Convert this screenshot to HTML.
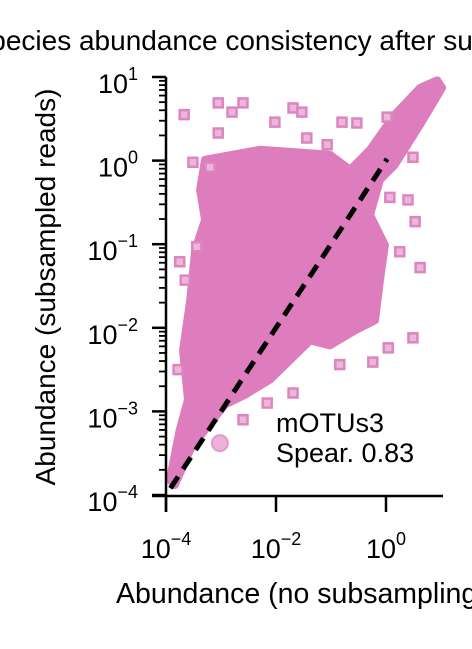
<!DOCTYPE html>
<html><head><meta charset="utf-8"><style>
html,body{margin:0;padding:0;background:#fff}
svg{display:block;font-family:"Liberation Sans",Arial,sans-serif}
</style></head><body>
<svg id="chart" width="472" height="649">
<text x="286" y="50" font-size="28" text-anchor="middle">Species abundance consistency after subsampling</text>
<g id="plot"></g>
<g id="axes"></g>
<text x="116" y="603" font-size="28.5">Abundance (no subsampling)</text>
<text transform="translate(55,287) rotate(-90)" font-size="28" text-anchor="middle">Abundance (subsampled reads)</text>
<text x="276" y="432" font-size="27">mOTUs3</text>
<text x="276" y="462" font-size="27">Spear. 0.83</text>
</svg>
<script>
// log10 values
const cloudX=[-3.29,-2.29,-1.02,-0.65,-0.29,0.16,0.62,0.93,1.02,0.62,0.16,-0.11,-0.29,-0.02,-0.11,-0.2,-0.56,-1.02,-1.38,-1.75,-2.11,-2.56,-2.93,-3.29,-3.56,-3.84,-3.93,-3.75,-3.6,-3.69,-3.56,-3.47,-3.29,-3.38];
const cloudY=[0.01,0.13,0.07,-0.11,0.13,0.55,0.87,0.96,0.87,0.43,-0.05,-0.23,-0.65,-1.01,-1.43,-1.91,-2.03,-2.21,-2.15,-2.39,-2.62,-2.8,-2.92,-3.22,-3.46,-3.88,-3.82,-3.22,-2.86,-2.27,-1.67,-1.07,-0.71,-0.35];
const ptsX=[-3.67,-3.05,-2.6,-2.8,-3.05,-2.02,-1.69,-1.53,-1.44,-0.8,-0.53,0.02,-3.75,-3.65,-3.44,0.62,0.49,0.4,0.53,0.07,0.25,0.04,-0.24,-0.84,-1.69,-2.16,-2.6,-3.78,-1.07,0.49,-3.51,-3.2];
const ptsY=[0.55,0.69,0.69,0.58,0.33,0.46,0.63,0.58,0.27,0.46,0.45,0.52,-1.21,-1.43,-1.03,-1.28,-2.12,-0.47,-0.73,-0.44,-1.09,-2.24,-2.41,-2.44,-2.78,-2.9,-3.1,-2.5,0.19,0.04,-0.02,-0.08];
const markX=[-3.02], markY=[-3.38];
const majorTicks=[-4,-3,-2,-1,0,1];
const xTickVals=[-4,-2,0];
const NS='http://www.w3.org/2000/svg';
const X0=166,DX=55,Y0=495,DY=83.6;
function sx(v){return X0+(v+4)*DX}
function sy(v){return Y0-(v+4)*DY}
const plot=document.getElementById('plot'),axes=document.getElementById('axes');
function mk(t,a,p){const e=document.createElementNS(NS,t);for(const k in a)e.setAttribute(k,a[k]);(p||plot).appendChild(e);return e}
const cloud=mk('polygon',{points:cloudX.map((v,i)=>sx(v)+','+sy(cloudY[i])).join(' '),fill:'#dd7dbd',stroke:'#dd7dbd','stroke-width':8,'stroke-linejoin':'round'});


ptsX.forEach((v,i)=>{const r=mk('rect',{x:sx(v)-4.5,y:sy(ptsY[i])-4.5,width:9,height:9,fill:'#eab7d9',stroke:'#dd85c0','stroke-width':2.5});

});
markX.forEach((v,i)=>{const c=mk('circle',{cx:sx(v),cy:sy(markY[i]),r:8,fill:'#eab2d6',stroke:'#e09ccb','stroke-width':2});

});
const dl=mk('line',{x1:sx(-3.92),y1:sy(-3.92),x2:sx(0.02),y2:sy(0.02),stroke:'#000','stroke-width':5,'stroke-dasharray':'14,9'});


// axes
mk('line',{x1:166,y1:77,x2:166,y2:512,stroke:'#000','stroke-width':2.5},axes);
mk('line',{x1:152,y1:496,x2:443,y2:496,stroke:'#000','stroke-width':2.5},axes);
function lbl(t){return '10<tspan dy="-13" font-size="18">'+(t<0?'\u2212'+(-t):t)+'</tspan>';}
majorTicks.forEach(t=>{const y=sy(t);
mk('line',{x1:152,y1:y,x2:166,y2:y,stroke:'#000','stroke-width':2.5},axes);
const tx=mk('text',{x:138,y:y+16,'font-size':27,'text-anchor':'end'},axes);
tx.innerHTML=lbl(t);


if(t<1){for(let m=2;m<10;m++){const ym=sy(t+Math.log10(m));mk('line',{x1:159,y1:ym,x2:166,y2:ym,stroke:'#000','stroke-width':1.8},axes);}}
});
xTickVals.forEach(t=>{const x=sx(t);
mk('line',{x1:x,y1:496,x2:x,y2:512,stroke:'#000','stroke-width':2.5},axes);
const tx=mk('text',{x:x,y:558,'font-size':27,'text-anchor':'middle'},axes);
tx.innerHTML=lbl(t);

});
</script>
</body></html>
